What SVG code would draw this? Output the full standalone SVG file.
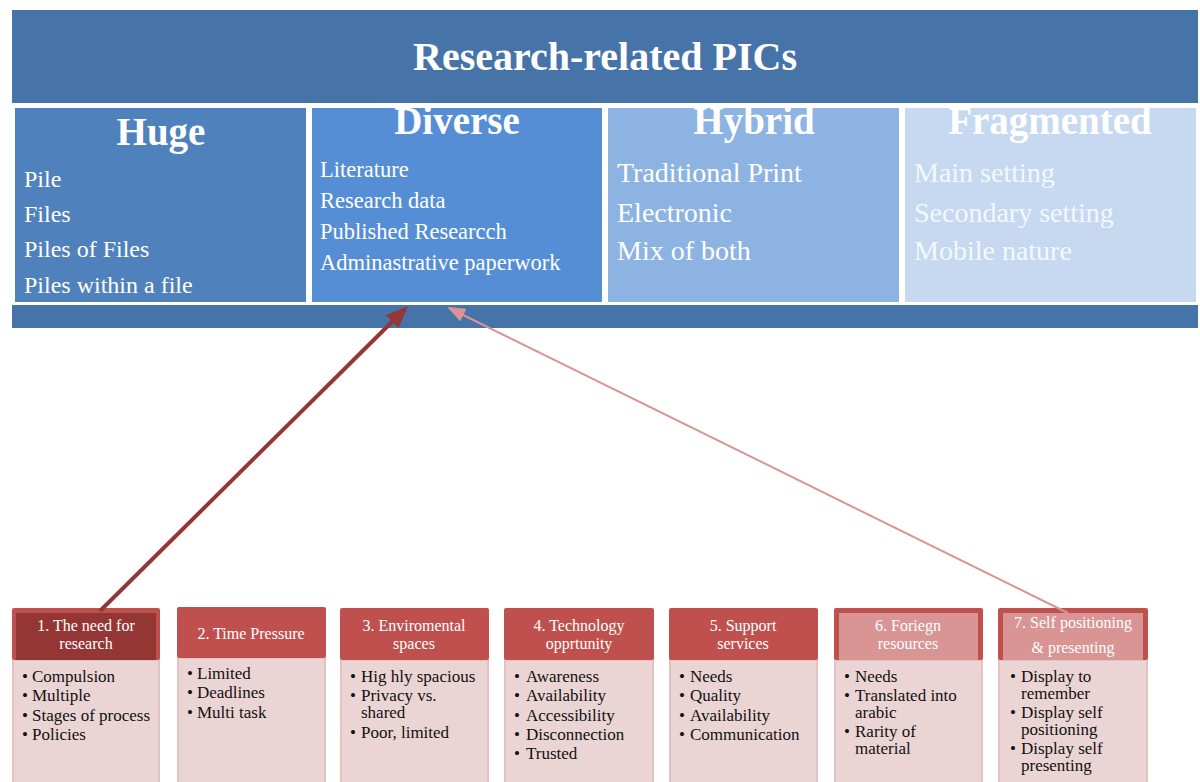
<svg xmlns="http://www.w3.org/2000/svg" width="1200" height="782" viewBox="0 0 1200 782">
<style>
.f{font-family:"Liberation Serif","DejaVu Serif",serif}
.title{font-size:40px;font-weight:bold;fill:#fff}
.head{font-size:39px;font-weight:bold;fill:#fff}
.it1{font-size:24px;fill:#fff}
.it2{font-size:22.5px;fill:#fff}
.it3{font-size:28px;fill:#fff}
.it4{font-size:28px;fill:#F4F8FD}
.bh{font-size:16px;fill:#fff}
.bt{font-size:17px;fill:#111}
.hdr{fill:#C0504D}
.body{fill:#EBD4D4;stroke:#E3C2C2;stroke-width:2}
</style>
<defs>
<marker id="ah1" markerWidth="5.5" markerHeight="4.5" refX="4.5" refY="2.25" orient="auto" markerUnits="strokeWidth"><path d="M0,0 L5.5,2.25 L0,4.5 z" fill="#943634"/></marker>
<marker id="ah2" markerWidth="9" markerHeight="7" refX="8" refY="3.5" orient="auto" markerUnits="strokeWidth"><path d="M0,0 L9,3.5 L0,7 z" fill="#D99594"/></marker>
</defs>
<g id="banner">
<rect x="12" y="10" width="1186" height="93" fill="#4673A8"/>
<text class="f title" x="605" y="70" text-anchor="middle">Research-related PICs</text>
<rect x="12" y="305" width="1186" height="23" fill="#4673A8"/>
</g>
<g id="col-huge">
<rect x="15" y="108" width="291" height="194" fill="#4F81BD"/>
<text class="f head" x="161" y="145" text-anchor="middle">Huge</text>
<text class="f it1" x="24" y="187">Pile</text>
<text class="f it1" x="24" y="222">Files</text>
<text class="f it1" x="24" y="257">Piles of Files</text>
<text class="f it1" x="24" y="293">Piles within a file</text>
</g>
<g id="col-diverse">
<rect x="312" y="108" width="290" height="194" fill="#558ED5"/>
<text class="f head" x="457" y="134" text-anchor="middle">Diverse</text>
<text class="f it2" x="320" y="177">Literature</text>
<text class="f it2" x="320" y="208">Research data</text>
<text class="f it2" x="320" y="239">Published Researcch</text>
<text class="f it2" x="320" y="270">Adminastrative paperwork</text>
</g>
<g id="col-hybrid">
<rect x="608" y="108" width="291" height="194" fill="#8DB3E2"/>
<text class="f head" x="754" y="134" text-anchor="middle">Hybrid</text>
<text class="f it3" x="617" y="182">Traditional Print</text>
<text class="f it3" x="617" y="222">Electronic</text>
<text class="f it3" x="617" y="260">Mix of both</text>
</g>
<g id="col-fragmented">
<rect x="905" y="108" width="291" height="194" fill="#C6D9F1"/>
<text class="f head" x="1050" y="134" text-anchor="middle">Fragmented</text>
<text class="f it4" x="914" y="182">Main setting</text>
<text class="f it4" x="914" y="222">Secondary setting</text>
<text class="f it4" x="914" y="260">Mobile nature</text>
</g>
<g id="box1">
<rect class="body" x="13" y="660" width="146" height="130"/>
<rect class="hdr" x="12" y="608" width="148" height="52" rx="2"/>
<rect x="16" y="613" width="140" height="47" fill="#943634"/>
<text class="f bh" x="86" y="631" text-anchor="middle">1. The need for</text>
<text class="f bh" x="86" y="649" text-anchor="middle">research</text>
<g class="f bt"><text x="22" y="682">•</text><text x="32" y="682">Compulsion</text>
<text x="22" y="701">•</text><text x="32" y="701">Multiple</text>
<text x="22" y="721">•</text><text x="32" y="721">Stages of process</text>
<text x="22" y="740">•</text><text x="32" y="740">Policies</text></g>
</g>
<g id="box2">
<rect class="body" x="178" y="658" width="147" height="130"/>
<rect class="hdr" x="177" y="607" width="149" height="51" rx="2"/>
<text class="f bh" x="251" y="639" text-anchor="middle">2. Time Pressure</text>
<g class="f bt"><text x="187" y="679">•</text><text x="197" y="679">Limited</text>
<text x="187" y="698">•</text><text x="197" y="698">Deadlines</text>
<text x="187" y="718">•</text><text x="197" y="718">Multi task</text></g>
</g>
<g id="box3">
<rect class="body" x="341" y="660" width="147" height="130"/>
<rect class="hdr" x="340" y="608" width="149" height="52" rx="2"/>
<text class="f bh" x="414" y="631" text-anchor="middle">3. Enviromental</text>
<text class="f bh" x="414" y="649" text-anchor="middle">spaces</text>
<g class="f bt"><text x="350" y="682">•</text><text x="361" y="682">Hig hly spacious</text>
<text x="350" y="701">•</text><text x="361" y="701">Privacy vs.</text>
<text x="361" y="718">shared</text>
<text x="350" y="738">•</text><text x="361" y="738">Poor, limited</text></g>
</g>
<g id="box4">
<rect class="body" x="505" y="660" width="148" height="130"/>
<rect class="hdr" x="504" y="608" width="150" height="52" rx="2"/>
<text class="f bh" x="579" y="631" text-anchor="middle">4. Technology</text>
<text class="f bh" x="579" y="649" text-anchor="middle">opprtunity</text>
<g class="f bt"><text x="514" y="682">•</text><text x="526" y="682">Awareness</text>
<text x="514" y="701">•</text><text x="526" y="701">Availability</text>
<text x="514" y="721">•</text><text x="526" y="721">Accessibility</text>
<text x="514" y="740">•</text><text x="526" y="740">Disconnection</text>
<text x="514" y="759">•</text><text x="526" y="759">Trusted</text></g>
</g>
<g id="box5">
<rect class="body" x="670" y="660" width="147" height="130"/>
<rect class="hdr" x="669" y="608" width="149" height="52" rx="2"/>
<text class="f bh" x="743" y="631" text-anchor="middle">5. Support</text>
<text class="f bh" x="743" y="649" text-anchor="middle">services</text>
<g class="f bt"><text x="679" y="682">•</text><text x="690" y="682">Needs</text>
<text x="679" y="701">•</text><text x="690" y="701">Quality</text>
<text x="679" y="721">•</text><text x="690" y="721">Availability</text>
<text x="679" y="740">•</text><text x="690" y="740">Communication</text></g>
</g>
<g id="box6">
<rect class="body" x="835" y="660" width="147" height="130"/>
<rect class="hdr" x="834" y="608" width="149" height="52" rx="2"/>
<rect x="839" y="613" width="139" height="47" fill="#D99594"/>
<text class="f bh" x="908" y="631" text-anchor="middle">6. Foriegn</text>
<text class="f bh" x="908" y="649" text-anchor="middle">resources</text>
<g class="f bt"><text x="844" y="682">•</text><text x="855" y="682">Needs</text>
<text x="844" y="701">•</text><text x="855" y="701">Translated into</text>
<text x="855" y="718">arabic</text>
<text x="844" y="737">•</text><text x="855" y="737">Rarity of</text>
<text x="855" y="754">material</text></g>
</g>
<g id="box7">
<rect class="body" x="999" y="660" width="148" height="130"/>
<rect class="hdr" x="998" y="608" width="150" height="52" rx="2"/>
<rect x="1003" y="613" width="140" height="47" fill="#D99594"/>
<text class="f bh" x="1073" y="628" text-anchor="middle">7. Self positioning</text>
<text class="f bh" x="1073" y="653" text-anchor="middle">&amp; presenting</text>
<g class="f bt"><text x="1010" y="682">•</text><text x="1021" y="682">Display to</text>
<text x="1021" y="699">remember</text>
<text x="1010" y="718">•</text><text x="1021" y="718">Display self</text>
<text x="1021" y="735">positioning</text>
<text x="1010" y="754">•</text><text x="1021" y="754">Display self</text>
<text x="1021" y="771">presenting</text></g>
</g>
<g id="connectors">
<line x1="100" y1="611" x2="405" y2="309" stroke="#943634" stroke-width="4" marker-end="url(#ah1)"/>
<line x1="1068" y1="613" x2="449" y2="308" stroke="#D99594" stroke-width="2" marker-end="url(#ah2)"/>
</g>
</svg>
